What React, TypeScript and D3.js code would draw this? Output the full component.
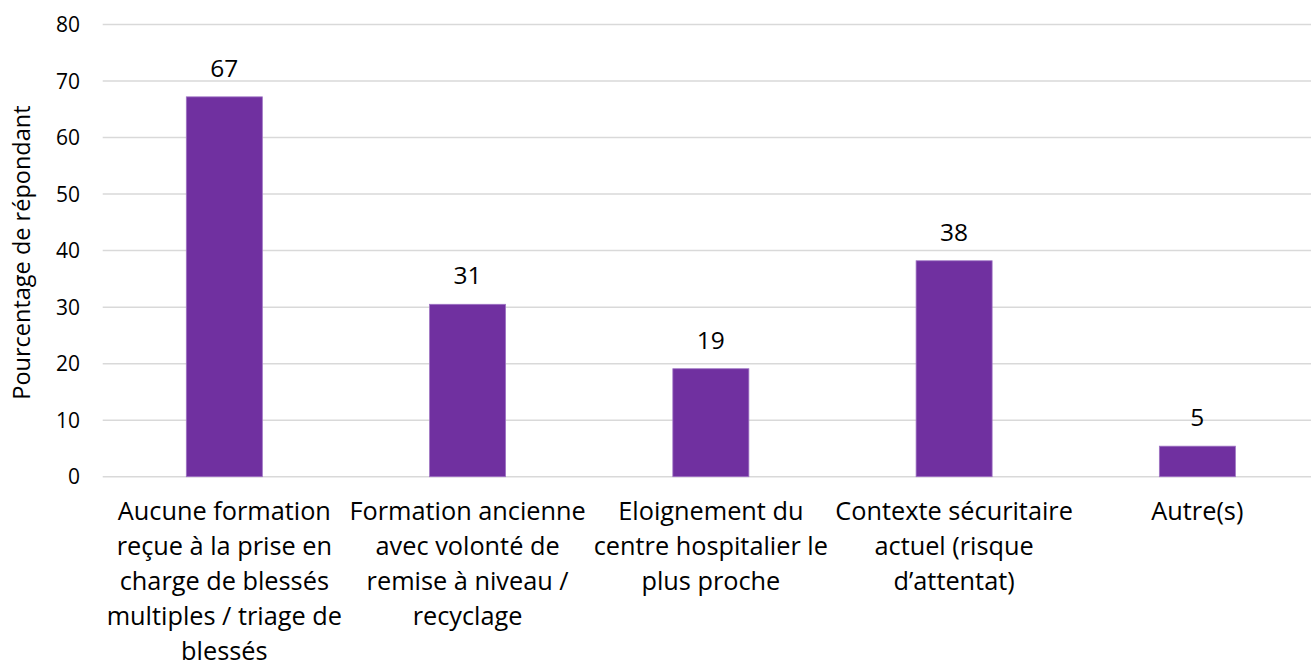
import React from "react";
import * as d3 from "d3";

const categories: string[][] = [
  ["Aucune formation", "reçue à la prise en", "charge de blessés", "multiples / triage de", "blessés"],
  ["Formation ancienne", "avec volonté de", "remise à niveau /", "recyclage"],
  ["Eloignement du", "centre hospitalier le", "plus proche"],
  ["Contexte sécuritaire", "actuel (risque", "d’attentat)"],
  ["Autre(s)"],
];
const values: number[] = [67.2, 30.5, 19.1, 38.2, 5.4];
const yTicks: number[] = [0, 10, 20, 30, 40, 50, 60, 70, 80];
const yTitle = "Pourcentage de répondant";

const W = 1311;
const H = 668;
const FONT = "'Open Sans', Lato, sans-serif";

export default function App() {
  const left = 102.7;
  const right = 1319;
  const top = 24.5;
  const bottom = 476.7;

  const x = d3
    .scaleBand<number>()
    .domain(d3.range(values.length))
    .range([left, right])
    .paddingInner(0.6875)
    .paddingOuter(0.34375);
  const y = d3.scaleLinear().domain([0, 80]).range([bottom, top]);

  return (
    <svg
      width={W}
      height={H}
      style={{ position: "absolute", left: 0, top: 0, background: "#fff" }}
      fontFamily={FONT}
    >
      {yTicks.map((t) => (
        <g key={t}>
          <line x1={left} x2={W} y1={y(t)} y2={y(t)} stroke="#d9d9d9" strokeWidth={1.5} />
          <text x={80} y={y(t)} dy="0.36em" textAnchor="end" fontSize={21} fill="#000">
            {t}
          </text>
        </g>
      ))}
      <text
        transform={`translate(30,${(top + bottom) / 2 + 2}) rotate(-90)`}
        textAnchor="middle"
        fontSize={23.5}
        fill="#000"
      >
        {yTitle}
      </text>
      {values.map((v, i) => {
        const bx = x(i)!;
        const bw = x.bandwidth();
        return (
          <g key={i}>
            <rect
              x={bx}
              y={y(v)}
              width={bw}
              height={y(0) - y(v)}
              fill="#7030a0"
              stroke="#9e73c3"
              strokeWidth={0.8}
            />
            <text
              x={bx + bw / 2}
              y={y(v) - 20}
              textAnchor="middle"
              fontSize={24.5}
              fill="#000"
            >
              {d3.format(".0f")(v)}
            </text>
            <text x={bx + bw / 2} y={519.5} textAnchor="middle" fontSize={25.3} fill="#000">
              {categories[i].map((line, j) => (
                <tspan key={j} x={bx + bw / 2} dy={j === 0 ? 0 : 35.2}>
                  {line}
                </tspan>
              ))}
            </text>
          </g>
        );
      })}
    </svg>
  );
}
